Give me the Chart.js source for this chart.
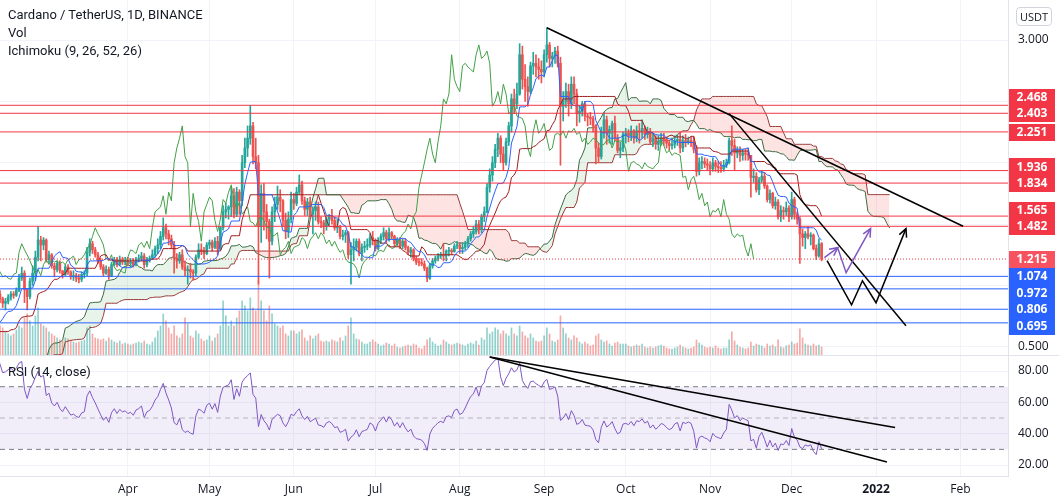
<!DOCTYPE html>
<html>
<head>
<meta charset="utf-8">
<script src="https://cdn.jsdelivr.net/npm/chart.js@4.4.1/dist/chart.umd.min.js"></script>
<style>
  body { margin: 0; background: #fff; width: 1059px; height: 504px; overflow: hidden; position: relative; font-family: 'Open Sans', sans-serif; }
  canvas { position: absolute; left: 0; display: block; }
  #main { top: 0; }
  #rsi { top: 356px; }
  .lg { position: absolute; left: 8px; font-family: Roboto, sans-serif; font-size: 13px; color: #131722; line-height: 18px; white-space: nowrap; }
  #usdt { position: absolute; left: 1016px; top: 7px; width: 34px; height: 17px; border: 1px solid #d1d4dc; border-radius: 4px;
          font-size: 11px; line-height: 17px; text-align: center; color: #131722; }
</style>
</head>
<body>
<canvas id="main" width="1059" height="356"></canvas>
<canvas id="rsi" width="1059" height="148"></canvas>
<div class="lg" style="top:6px">Cardano / TetherUS, 1D, BINANCE</div>
<div class="lg" style="top:24px">Vol</div>
<div class="lg" style="top:42px">Ichimoku (9, 26, 52, 26)</div>
<div class="lg" style="top:363px">RSI (14, close)</div>
<div id="usdt">USDT</div>
<script>
// daily candles ADA/USDT, first bar 2020-11-27 (bars before Feb 13 only feed the indicators)
var startDate = '2020-11-27';
var firstOpen = 0.140;
var closes = [
  0.147, 0.153, 0.160, 0.166,
  0.158, 0.160, 0.163, 0.148, 0.155, 0.158, 0.152, 0.145, 0.150, 0.149, 0.144, 0.150, 0.157, 0.156, 0.155, 0.164, 0.167, 0.166, 0.169, 0.165, 0.157, 0.155, 0.138, 0.148, 0.159, 0.160, 0.175, 0.180, 0.175, 0.183, 0.181,
  0.175, 0.177, 0.205, 0.225, 0.258, 0.309, 0.321, 0.307, 0.312, 0.296, 0.273, 0.287, 0.306, 0.348, 0.331, 0.342, 0.364, 0.372, 0.350, 0.348, 0.306, 0.336, 0.328, 0.356, 0.349, 0.358, 0.349, 0.368, 0.376, 0.366, 0.362,
  0.384, 0.411, 0.452, 0.453, 0.507, 0.620, 0.689, 0.712, 0.690, 0.707, 0.723, 0.930, 0.890, 0.855, 0.870, 0.905, 0.930, 0.920, 0.960, 1.060, 1.100, 0.965, 0.910, 1.035, 1.100, 1.230, 1.370, 1.330,
  1.370, 1.210, 1.250, 1.160, 1.130, 1.180, 1.120, 1.090, 1.150, 1.110, 1.070, 1.080, 1.060, 1.050, 1.090, 1.100, 1.270, 1.340, 1.290, 1.250, 1.200, 1.150, 1.100, 1.130, 1.080, 1.170, 1.210, 1.170, 1.210, 1.190, 1.200,
  1.180, 1.190, 1.170, 1.210, 1.220, 1.240, 1.170, 1.210, 1.220, 1.250, 1.300, 1.330, 1.400, 1.470, 1.420, 1.380, 1.330, 1.220, 1.200, 1.250, 1.150, 1.120, 1.130, 1.110, 1.100, 1.230, 1.290, 1.280, 1.260, 1.330,
  1.350, 1.310, 1.360, 1.300, 1.470, 1.600, 1.620, 1.640, 1.730, 1.580, 1.760, 1.690, 2.000, 2.120, 2.200, 2.300, 2.050, 2.000, 1.480, 1.750, 1.600, 1.520, 1.360, 1.600, 1.660, 1.720, 1.690, 1.530, 1.440, 1.540, 1.700,
  1.670, 1.760, 1.820, 1.690, 1.620, 1.680, 1.580, 1.610, 1.640, 1.520, 1.510, 1.480, 1.540, 1.560, 1.530, 1.470, 1.480, 1.400, 1.410, 1.430, 1.250, 1.290, 1.310, 1.360, 1.260, 1.310, 1.320, 1.330, 1.390, 1.370,
  1.300, 1.370, 1.400, 1.430, 1.380, 1.430, 1.400, 1.340, 1.370, 1.320, 1.360, 1.310, 1.270, 1.290, 1.220, 1.190, 1.185, 1.175, 1.140, 1.060, 1.160, 1.200, 1.220, 1.240, 1.250, 1.240, 1.280, 1.285, 1.275, 1.320, 1.330,
  1.300, 1.310, 1.340, 1.380, 1.420, 1.440, 1.500, 1.460, 1.560, 1.600, 1.800, 1.900, 2.000, 2.110, 2.200, 2.070, 2.000, 2.170, 2.300, 2.520, 2.480, 2.560, 2.880, 2.680, 2.620, 2.580, 2.790, 2.810, 2.780, 2.760, 2.740,
  2.880, 2.960, 2.850, 2.870, 2.910, 2.810, 2.460, 2.500, 2.580, 2.480, 2.640, 2.560, 2.400, 2.420, 2.480, 2.380, 2.370, 2.360, 2.300, 2.120, 2.050, 2.250, 2.350, 2.240, 2.270, 2.320, 2.200, 2.100, 2.120, 2.230,
  2.240, 2.220, 2.260, 2.200, 2.260, 2.250, 2.280, 2.230, 2.250, 2.170, 2.200, 2.150, 2.170, 2.200, 2.190, 2.160, 2.140, 2.150, 2.180, 2.190, 2.120, 2.180, 2.170, 2.180, 2.170, 2.110, 1.930, 2.000, 2.010, 1.990, 1.980,
  1.950, 2.000, 1.970, 1.960, 1.950, 1.980, 2.000, 2.180, 2.140, 2.080, 2.100, 2.060, 2.080, 2.070, 2.060, 1.880, 1.890, 1.780, 1.860, 1.890, 1.810, 1.700, 1.750, 1.650, 1.680, 1.560, 1.610, 1.600, 1.630, 1.560,
  1.700, 1.580, 1.540, 1.420, 1.390, 1.420, 1.400, 1.410, 1.300, 1.240, 1.340, 1.215
];
var highs = [
  0.153, 0.156, 0.162, 0.170,
  0.172, 0.164, 0.168, 0.165, 0.157, 0.162, 0.160, 0.154, 0.152, 0.153, 0.150, 0.152, 0.160, 0.160, 0.158, 0.166, 0.175, 0.172, 0.173, 0.172, 0.167, 0.160, 0.156, 0.150, 0.162, 0.165, 0.180, 0.186, 0.182, 0.186, 0.186,
  0.184, 0.182, 0.215, 0.234, 0.270, 0.322, 0.340, 0.330, 0.325, 0.318, 0.300, 0.300, 0.312, 0.360, 0.360, 0.350, 0.370, 0.385, 0.383, 0.360, 0.352, 0.345, 0.345, 0.362, 0.380, 0.365, 0.362, 0.375, 0.395, 0.380, 0.375,
  0.395, 0.420, 0.470, 0.470, 0.515, 0.650, 0.720, 0.740, 0.735, 0.740, 0.760, 0.950, 0.958, 0.905, 0.895, 0.925, 0.950, 0.950, 0.980, 1.090, 1.150, 1.120, 0.970, 1.060, 1.160, 1.280, 1.480, 1.400,
  1.390, 1.380, 1.280, 1.260, 1.180, 1.200, 1.200, 1.120, 1.170, 1.170, 1.120, 1.120, 1.100, 1.090, 1.110, 1.120, 1.310, 1.380, 1.360, 1.310, 1.270, 1.220, 1.170, 1.160, 1.150, 1.190, 1.230, 1.230, 1.240, 1.230, 1.230,
  1.230, 1.220, 1.220, 1.230, 1.250, 1.270, 1.260, 1.230, 1.240, 1.290, 1.320, 1.380, 1.440, 1.550, 1.500, 1.450, 1.410, 1.360, 1.260, 1.270, 1.290, 1.200, 1.160, 1.180, 1.130, 1.250, 1.340, 1.340, 1.310, 1.350,
  1.370, 1.370, 1.390, 1.400, 1.480, 1.650, 1.670, 1.650, 1.800, 1.790, 1.800, 1.780, 2.060, 2.200, 2.300, 2.468, 2.330, 2.200, 2.060, 1.820, 1.830, 1.660, 1.540, 1.640, 1.720, 1.810, 1.780, 1.700, 1.590, 1.600, 1.760,
  1.750, 1.800, 1.900, 1.850, 1.720, 1.710, 1.720, 1.640, 1.680, 1.680, 1.560, 1.530, 1.560, 1.580, 1.620, 1.560, 1.540, 1.490, 1.450, 1.450, 1.440, 1.350, 1.380, 1.380, 1.380, 1.340, 1.360, 1.380, 1.420, 1.440,
  1.380, 1.390, 1.420, 1.470, 1.450, 1.470, 1.440, 1.410, 1.390, 1.390, 1.380, 1.380, 1.320, 1.310, 1.300, 1.240, 1.220, 1.220, 1.200, 1.150, 1.180, 1.220, 1.240, 1.260, 1.270, 1.340, 1.290, 1.310, 1.300, 1.340, 1.360,
  1.350, 1.350, 1.360, 1.400, 1.440, 1.480, 1.530, 1.530, 1.580, 1.640, 1.830, 1.950, 2.050, 2.150, 2.240, 2.220, 2.130, 2.200, 2.330, 2.560, 2.600, 2.650, 2.970, 2.950, 2.800, 2.700, 2.820, 2.900, 2.880, 2.850, 2.830,
  2.920, 3.100, 2.980, 2.900, 2.940, 2.950, 2.860, 2.580, 2.650, 2.640, 2.700, 2.700, 2.600, 2.460, 2.500, 2.500, 2.400, 2.410, 2.380, 2.310, 2.160, 2.290, 2.410, 2.380, 2.300, 2.340, 2.380, 2.230, 2.170, 2.250,
  2.280, 2.270, 2.300, 2.270, 2.300, 2.320, 2.350, 2.300, 2.290, 2.280, 2.240, 2.220, 2.220, 2.240, 2.240, 2.210, 2.180, 2.200, 2.220, 2.230, 2.250, 2.220, 2.230, 2.210, 2.210, 2.210, 2.140, 2.040, 2.050, 2.040, 2.030,
  2.010, 2.040, 2.020, 2.010, 2.010, 2.020, 2.030, 2.200, 2.300, 2.190, 2.130, 2.130, 2.110, 2.110, 2.120, 2.060, 1.950, 1.920, 1.880, 1.930, 1.920, 1.820, 1.780, 1.760, 1.720, 1.700, 1.650, 1.640, 1.680, 1.650,
  1.760, 1.720, 1.600, 1.560, 1.460, 1.440, 1.480, 1.430, 1.420, 1.330, 1.380, 1.350
];
var lows = [
  0.125, 0.145, 0.150, 0.157,
  0.155, 0.152, 0.155, 0.144, 0.146, 0.153, 0.150, 0.142, 0.140, 0.145, 0.140, 0.143, 0.149, 0.151, 0.151, 0.154, 0.160, 0.160, 0.163, 0.160, 0.150, 0.147, 0.130, 0.134, 0.146, 0.155, 0.158, 0.170, 0.168, 0.172, 0.175,
  0.168, 0.164, 0.175, 0.196, 0.220, 0.250, 0.290, 0.280, 0.292, 0.276, 0.230, 0.258, 0.278, 0.300, 0.315, 0.320, 0.335, 0.350, 0.340, 0.318, 0.300, 0.290, 0.318, 0.323, 0.340, 0.335, 0.330, 0.340, 0.352, 0.355, 0.350,
  0.355, 0.380, 0.405, 0.420, 0.440, 0.500, 0.570, 0.640, 0.620, 0.650, 0.690, 0.710, 0.860, 0.820, 0.800, 0.850, 0.880, 0.895, 0.910, 0.950, 1.040, 0.860, 0.800, 0.890, 1.000, 1.040, 1.200, 1.200,
  1.290, 1.190, 1.180, 1.140, 1.070, 1.110, 1.100, 1.060, 1.080, 1.090, 1.050, 1.040, 1.030, 1.020, 1.030, 1.060, 1.080, 1.240, 1.260, 1.230, 1.180, 1.130, 1.080, 1.090, 1.050, 1.070, 1.160, 1.150, 1.160, 1.170, 1.170,
  1.160, 1.150, 1.150, 1.160, 1.190, 1.200, 1.140, 1.150, 1.190, 1.210, 1.230, 1.260, 1.300, 1.370, 1.380, 1.330, 1.300, 1.100, 1.140, 1.180, 1.130, 1.080, 1.010, 1.060, 1.040, 1.080, 1.220, 1.250, 1.220, 1.250,
  1.300, 1.280, 1.300, 1.250, 1.290, 1.450, 1.550, 1.540, 1.560, 1.550, 1.560, 1.580, 1.650, 1.960, 2.050, 2.150, 1.990, 1.950, 1.010, 1.350, 1.450, 1.380, 1.060, 1.330, 1.520, 1.620, 1.600, 1.480, 1.380, 1.390, 1.510,
  1.620, 1.650, 1.740, 1.660, 1.570, 1.570, 1.560, 1.420, 1.530, 1.500, 1.470, 1.420, 1.450, 1.490, 1.500, 1.450, 1.430, 1.380, 1.370, 1.350, 1.220, 1.010, 1.200, 1.280, 1.240, 1.200, 1.270, 1.290, 1.310, 1.330,
  1.280, 1.290, 1.340, 1.370, 1.350, 1.360, 1.380, 1.320, 1.320, 1.300, 1.300, 1.290, 1.250, 1.230, 1.200, 1.170, 1.160, 1.160, 1.120, 1.030, 1.050, 1.140, 1.180, 1.200, 1.220, 1.200, 1.200, 1.240, 1.250, 1.270, 1.300,
  1.260, 1.260, 1.290, 1.310, 1.360, 1.390, 1.420, 1.420, 1.430, 1.520, 1.590, 1.760, 1.850, 1.960, 2.050, 2.000, 1.940, 1.980, 2.140, 2.250, 2.400, 2.440, 2.550, 2.600, 2.500, 2.460, 2.560, 2.720, 2.700, 2.680, 2.650,
  2.700, 2.820, 2.780, 2.780, 2.810, 2.780, 1.980, 2.340, 2.450, 2.380, 2.440, 2.480, 2.300, 2.330, 2.380, 2.340, 2.300, 2.310, 2.250, 1.990, 2.000, 2.030, 2.200, 2.150, 2.160, 2.150, 2.180, 2.080, 2.040, 2.090,
  2.160, 2.170, 2.180, 2.160, 2.170, 2.160, 2.200, 2.190, 2.200, 2.150, 2.130, 2.110, 2.100, 2.140, 2.140, 2.120, 2.100, 2.110, 2.120, 2.140, 2.080, 2.090, 2.130, 2.150, 2.130, 2.080, 1.890, 1.900, 1.950, 1.960, 1.940,
  1.900, 1.930, 1.930, 1.920, 1.920, 1.930, 1.960, 1.990, 2.060, 1.940, 2.040, 2.010, 2.020, 2.020, 2.020, 1.720, 1.840, 1.760, 1.740, 1.840, 1.790, 1.680, 1.670, 1.630, 1.620, 1.540, 1.520, 1.540, 1.570, 1.520,
  1.540, 1.540, 1.500, 1.180, 1.320, 1.300, 1.380, 1.330, 1.290, 1.210, 1.230, 1.200
];
// volume in millions of ADA, from 2021-02-13
var volStart = '2021-02-13';
var volumes = [
  750, 700, 625, 550, 500, 550, 650, 750, 700, 950, 1050, 875, 750, 1000, 1200, 800,
  750, 700, 600, 550, 500, 450, 400, 375, 450, 425, 400, 350, 325, 350, 375, 400, 700, 750, 550, 450, 425, 400, 425, 375, 450, 400, 350, 325, 375, 300, 325,
  300, 275, 300, 325, 350, 325, 375, 300, 275, 350, 450, 625, 750, 1050, 875, 700, 550, 750, 500, 450, 550, 950, 800, 500, 450, 625, 550, 425, 375, 400,
  500, 375, 450, 550, 750, 1375, 1000, 750, 875, 750, 950, 1125, 1375, 1250, 1125, 1450, 1200, 1125, 1875, 1375, 1125, 875, 1250, 1050, 800, 750, 700, 750, 550, 500, 625,
  625, 550, 600, 650, 450, 375, 500, 425, 500, 550, 375, 350, 375, 350, 400, 375, 350, 450, 375, 500, 750, 950, 550, 425, 400, 350, 300, 300, 350, 400,
  350, 300, 250, 275, 325, 300, 250, 300, 225, 200, 225, 250, 275, 250, 300, 275, 200, 175, 250, 400, 450, 350, 300, 250, 275, 400, 350, 300, 275, 300, 325,
  300, 275, 250, 300, 325, 300, 375, 275, 450, 400, 700, 550, 600, 700, 650, 550, 625, 550, 500, 700, 550, 500, 750, 600, 500, 450, 550, 450, 375, 350, 375,
  500, 700, 550, 375, 350, 400, 1000, 700, 550, 450, 400, 500, 450, 350, 300, 350, 300, 250, 275, 500, 550, 400, 350, 375, 300, 250, 325, 350, 300, 300,
  300, 250, 225, 250, 275, 250, 300, 225, 200, 225, 200, 225, 250, 275, 250, 200, 175, 175, 200, 225, 275, 225, 200, 175, 200, 225, 400, 325, 275, 225, 200,
  225, 200, 250, 200, 175, 200, 200, 400, 600, 375, 275, 225, 200, 175, 200, 350, 250, 300, 275, 250, 200, 300, 250, 275, 225, 400, 225, 200, 250, 275,
  350, 300, 325, 675, 450, 300, 275, 250, 300, 250, 275, 225
];
var monthStarts = ['2021-04-01', '2021-05-01', '2021-06-01', '2021-07-01', '2021-08-01', '2021-09-01', '2021-10-01', '2021-11-01', '2021-12-01', '2022-01-01', '2022-02-01'];
var monthLabels = ['Apr', 'May', 'Jun', 'Jul', 'Aug', 'Sep', 'Oct', 'Nov', 'Dec', '2022', 'Feb'];
var priceTicks = [0.5, 1, 1.5, 2, 2.5, 3];
var shownPriceTicks = [0.5, 3];
var rsiTicks = [20, 40, 60, 80];
var rsiBands = [70, 50, 30];
var redLevels = [2.468, 2.403, 2.251, 1.936, 1.834, 1.565, 1.482];
var blueLevels = [1.074, 0.972, 0.806, 0.695];
// drawings: [date, price]
var trendTop = [['2021-09-02', 3.10], ['2022-02-02', 1.482]];
var trendSteep = [['2021-11-08', 2.40], ['2022-01-12', 0.671]];
var blackPath = [['2021-12-14', 1.202], ['2021-12-23', 0.842], ['2021-12-27', 1.038], ['2022-01-01', 0.859], ['2022-01-12', 1.463]];
var purpleArrow = [['2021-12-13', 1.226], ['2021-12-18', 1.308]];
var purplePath = [['2021-12-18', 1.300], ['2021-12-21', 1.104], ['2021-12-30', 1.463]];
var rsiTrendA = [['2021-08-12', 89], ['2022-01-08', 43.9]];
var rsiTrendB = [['2021-08-12', 89], ['2022-01-05', 21.9]];

var FONT = "'Open Sans', sans-serif";
var TXT = '#131722', GRID = '#f0f3fa', AXIS = '#e0e3eb';
var UP = '#26a69a', DOWN = '#ef5350';
var RED = '#f23645', BLUE = '#2962ff', LAST = '#f7525f';
Chart.defaults.font.family = FONT;

var origin = Date.parse('2021-04-01');
function dayOf(s) { return Math.round((Date.parse(s) - origin) / 864e5); }
var d0 = dayOf(startDate);
var xMin = dayOf('2021-02-13');
var xMax = dayOf('2022-02-18') + 0.5;
var monthDays = monthStarts.map(dayOf);
var labelByDay = {};
monthDays.forEach(function (d, i) { labelByDay[d] = monthLabels[i]; });
function pts(list) { return list.map(function (p) { return { x: dayOf(p[0]), y: p[1] }; }); }
function flat(v) { return [{ x: xMin, y: v }, { x: xMax, y: v }]; }

var opens = closes.map(function (c, i) { return i ? closes[i - 1] : firstOpen; });
var isUp = closes.map(function (c, i) { return c >= opens[i]; });
var wickData = closes.map(function (c, i) {
  return { x: d0 + i, y: [Math.min(lows[i], opens[i], c), Math.max(highs[i], opens[i], c)] };
});
var bodyData = closes.map(function (c, i) { return { x: d0 + i, y: [opens[i], c] }; });
var candleColors = isUp.map(function (u) { return u ? UP : DOWN; });
var v0 = dayOf(volStart);
var volData = volumes.map(function (v, k) { return { x: v0 + k, y: v }; });
var volColors = volumes.map(function (v, k) { return isUp[v0 - d0 + k] ? 'rgba(38,166,154,0.5)' : 'rgba(239,83,80,0.5)'; });

// Ichimoku (9, 26, 52, 26) from the candles
function midRange(i, n) {
  if (i < n - 1) return null;
  var hi = -Infinity, lo = Infinity;
  for (var k = i - n + 1; k <= i; k++) { hi = Math.max(hi, highs[k]); lo = Math.min(lo, lows[k]); }
  return (hi + lo) / 2;
}
var shift = 25;
var tenkan = [], kijun = [], spanA = [], spanB = [], chikou = [];
closes.forEach(function (c, i) {
  var t = midRange(i, 9), k = midRange(i, 26), b = midRange(i, 52);
  if (k !== null) { tenkan.push({ x: d0 + i, y: t }); kijun.push({ x: d0 + i, y: k }); }
  if (b !== null) { spanA.push({ x: d0 + i + shift, y: (t + k) / 2 }); spanB.push({ x: d0 + i + shift, y: b }); }
  chikou.push({ x: d0 + i - shift, y: c });
});

// RSI 14
var rsi = [];
var ag = 0, al = 0;
for (var i = 1; i < closes.length; i++) {
  var ch = closes[i] - closes[i - 1];
  var g = Math.max(ch, 0), l = Math.max(-ch, 0);
  if (i <= 14) { ag += g / 14; al += l / 14; if (i < 14) continue; }
  else { ag = (ag * 13 + g) / 14; al = (al * 13 + l) / 14; }
  rsi.push({ x: d0 + i, y: al === 0 ? 100 : 100 - 100 / (1 + ag / al) });
}

function line(data, color, width, order, extra) {
  var ds = { type: 'line', data: data, borderColor: color, borderWidth: width, pointRadius: 0, fill: false, tension: 0, order: order };
  for (var key in extra) ds[key] = extra[key];
  return ds;
}

var arrowHeads = {
  id: 'arrowHeads',
  afterDatasetsDraw: function (chart) {
    var ctx = chart.ctx;
    ctx.save();
    ctx.beginPath();
    ctx.rect(chart.chartArea.left, chart.chartArea.top, chart.chartArea.width, chart.chartArea.height);
    ctx.clip();
    chart.data.datasets.forEach(function (ds, i) {
      if (!ds.arrowHead) return;
      var el = chart.getDatasetMeta(i).data;
      var a = el[el.length - 2], b = el[el.length - 1];
      var ang = Math.atan2(b.y - a.y, b.x - a.x), L = 9;
      ctx.strokeStyle = ds.borderColor;
      ctx.lineWidth = ds.borderWidth;
      ctx.beginPath();
      ctx.moveTo(b.x - L * Math.cos(ang - 0.45), b.y - L * Math.sin(ang - 0.45));
      ctx.lineTo(b.x, b.y);
      ctx.lineTo(b.x - L * Math.cos(ang + 0.45), b.y - L * Math.sin(ang + 0.45));
      ctx.stroke();
    });
    ctx.restore();
  }
};

var levelTags = {
  id: 'levelTags',
  afterDraw: function (chart) {
    var ys = chart.scales.y, ctx = chart.ctx, h = 16.5;
    var lastPrice = closes[closes.length - 1];
    var tags = redLevels.map(function (v) { return { v: v, c: RED }; })
      .concat(blueLevels.map(function (v) { return { v: v, c: BLUE }; }));
    var pivot = { v: lastPrice, c: LAST };
    tags.concat([pivot]).forEach(function (t) { t.py = t.ly = ys.getPixelForValue(t.v); });
    var above = tags.filter(function (t) { return t.py < pivot.py; }).sort(function (a, b) { return b.py - a.py; });
    var below = tags.filter(function (t) { return t.py > pivot.py; }).sort(function (a, b) { return a.py - b.py; });
    var prev = pivot.ly;
    above.forEach(function (t) { t.ly = Math.min(t.py, prev - h); prev = t.ly; });
    prev = pivot.ly;
    below.forEach(function (t) { t.ly = Math.max(t.py, prev + h); prev = t.ly; });
    var all = tags.concat([pivot]);
    ctx.save();
    all.forEach(function (t) { ctx.fillStyle = t.c; ctx.fillRect(ys.left + 1, Math.round(t.ly - h / 2), 46, 17); });
    ctx.fillStyle = '#fff';
    ctx.font = 'bold 12px ' + FONT;
    ctx.textAlign = 'center';
    ctx.textBaseline = 'middle';
    all.forEach(function (t) { ctx.fillText(t.v.toFixed(3), ys.left + 24, t.ly + 0.5); });
    ctx.strokeStyle = AXIS;
    ctx.lineWidth = 1;
    ctx.beginPath();
    ctx.moveTo(0, chart.height - 0.5);
    ctx.lineTo(chart.width, chart.height - 0.5);
    ctx.stroke();
    ctx.restore();
  }
};

// fixed axis sizes, no label overhang padding
function fitY(s) { s.width = 51; s.paddingTop = 0; s.paddingBottom = 0; }
var xBase = {
  type: 'linear', min: xMin, max: xMax, offset: false,
  afterBuildTicks: function (s) { s.ticks = monthDays.map(function (v) { return { value: v }; }); },
  grid: { color: GRID, drawTicks: false, offset: false }
};

new Chart(document.getElementById('main'), {
  type: 'bar',
  data: {
    datasets: [
      line(pts(purpleArrow), '#7e57c2', 1.5, 0, { arrowHead: true }),
      line(pts(purplePath), '#7e57c2', 1.5, 0, { arrowHead: true }),
      line(pts(blackPath), '#000', 1.5, 0, { arrowHead: true }),
      line(pts(trendTop), '#000', 1.5, 0),
      line(pts(trendSteep), '#000', 1.5, 0),
      line(flat(closes[closes.length - 1]), RED, 1, 1, { borderDash: [1, 2] })
    ].concat(redLevels.map(function (v) { return line(flat(v), RED, 1, 1); }))
     .concat(blueLevels.map(function (v) { return line(flat(v), BLUE, 1, 1); }))
     .concat([
      line(tenkan, '#2962ff', 1, 3),
      line(kijun, '#9c1f1f', 1, 3),
      line(chikou, '#43a047', 1, 3),
      { type: 'bar', data: bodyData, backgroundColor: candleColors, barThickness: 2, minBarLength: 1, grouped: false, order: 4 },
      { type: 'bar', data: wickData, backgroundColor: candleColors, barThickness: 1, grouped: false, order: 5 },
      line(spanA, '#3d6b40', 1, 6, { fill: { target: '+1', above: 'rgba(67,160,71,0.12)', below: 'rgba(244,67,54,0.14)' } }),
      line(spanB, '#9a3a3a', 1, 7),
      { type: 'bar', data: volData, yAxisID: 'yVol', backgroundColor: volColors, barThickness: 1, grouped: false, order: 8 }
    ])
  },
  options: {
    responsive: false, animation: false, events: [],
    layout: { padding: 0, autoPadding: false },
    plugins: { legend: { display: false }, tooltip: { enabled: false } },
    scales: {
      x: Object.assign({}, xBase, {
        afterFit: function (s) { s.height = 0; s.paddingLeft = 0; s.paddingRight = 0; },
        ticks: { display: false },
        border: { display: false }
      }),
      y: {
        position: 'right', min: 0.425, max: 3.326,
        afterBuildTicks: function (s) { s.ticks = priceTicks.map(function (v) { return { value: v }; }); },
        afterFit: fitY,
        ticks: {
          padding: 10, color: TXT, font: { size: 12 },
          callback: function (v) { return shownPriceTicks.indexOf(v) >= 0 ? v.toFixed(3) : ''; }
        },
        grid: { color: GRID, drawTicks: false },
        border: { color: AXIS }
      },
      yVol: { axis: 'y', display: false, min: 0, max: 8875 }
    }
  },
  plugins: [arrowHeads, levelTags]
});

new Chart(document.getElementById('rsi'), {
  type: 'line',
  data: {
    datasets: [
      line(pts(rsiTrendA), '#000', 1.5, 0),
      line(pts(rsiTrendB), '#000', 1.5, 0),
      line(rsi, '#7e57c2', 1, 1),
      line(flat(rsiBands[0]), '#787b86', 1, 2, { borderDash: [5, 4], fill: { target: '+2', above: 'rgba(126,87,194,0.1)', below: 'rgba(126,87,194,0.1)' } }),
      line(flat(rsiBands[1]), 'rgba(120,123,134,0.5)', 1, 2, { borderDash: [5, 4] }),
      line(flat(rsiBands[2]), '#787b86', 1, 2, { borderDash: [5, 4] })
    ]
  },
  options: {
    responsive: false, animation: false, events: [],
    layout: { padding: 0, autoPadding: false },
    plugins: { legend: { display: false }, tooltip: { enabled: false } },
    scales: {
      x: Object.assign({}, xBase, {
        afterFit: function (s) { s.height = 28; s.paddingLeft = 0; s.paddingRight = 0; },
        ticks: {
          autoSkip: false, maxRotation: 0, padding: 6, color: TXT,
          font: function (c) { return { size: 12, weight: c.tick && c.tick.label === '2022' ? 'bold' : 'normal' }; },
          callback: function (v) { return labelByDay[v] || ''; }
        },
        border: { color: AXIS }
      }),
      y: {
        position: 'right', min: 13, max: 89.6,
        afterBuildTicks: function (s) { s.ticks = rsiTicks.map(function (v) { return { value: v }; }); },
        afterFit: fitY,
        ticks: { padding: 10, color: TXT, font: { size: 12 }, callback: function (v) { return v.toFixed(2); } },
        grid: { color: GRID, drawTicks: false },
        border: { color: AXIS }
      }
    }
  },
  plugins: [arrowHeads]
});
</script>
</body>
</html>
